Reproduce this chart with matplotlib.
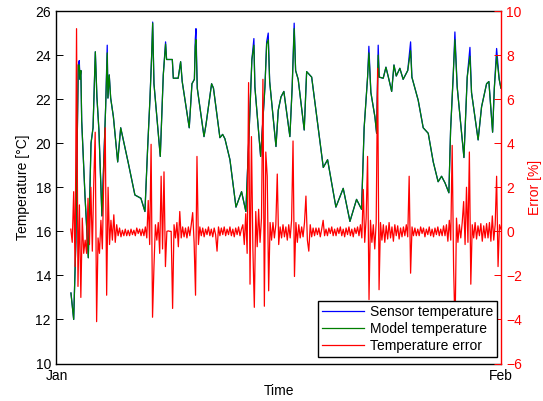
import numpy as np
import matplotlib
matplotlib.use('Agg')
import matplotlib.pyplot as plt

plt.rcParams['font.family'] = ['Liberation Sans', 'DejaVu Sans']
plt.rcParams['font.size'] = 10

# time in days from Jan 1, temperatures in degC
temp_day = [1.01, 1.20, 1.35, 1.52, 1.59, 1.64, 1.70, 1.76, 1.99, 2.22,
            2.41, 2.55, 2.71, 2.82, 2.96, 3.17, 3.43, 3.54, 3.59, 3.68,
            3.78, 3.97, 4.27, 4.48, 4.66, 5.01, 5.47, 5.89, 6.17, 6.36,
            6.52, 6.64, 6.71, 6.80, 7.24, 7.45, 7.61, 7.68, 8.08, 8.15,
            8.49, 8.66, 8.77, 9.26, 9.45, 9.62, 9.68, 9.73, 9.82, 10.29,
            10.43, 10.82, 10.95, 11.40, 11.59, 11.75, 12.10, 12.52, 12.91, 13.21,
            13.45, 13.63, 13.77, 13.84, 14.24, 14.54, 14.66, 14.77, 14.87, 15.31,
            15.47, 15.66, 15.86, 16.28, 16.44, 16.58, 16.68, 16.86, 17.28, 17.45,
            17.80, 18.61, 18.91, 19.49, 20.00, 20.47, 20.93, 21.28, 21.46, 21.70,
            21.79, 21.93, 22.21, 22.33, 22.44, 22.51, 22.79, 22.98, 23.15, 23.38,
            23.54, 23.70, 23.95, 24.18, 24.50, 24.70, 24.79, 25.23, 25.58, 25.93,
            26.28, 26.62, 26.86, 27.10, 27.37, 27.49, 27.67, 27.79, 27.95, 28.42,
            28.65, 28.84, 28.95, 29.41, 29.65, 30.00, 30.16, 30.42, 30.54, 30.70,
            30.88, 31.00]

sensor_temp = [13.2, 12.0, 15.5, 23.55, 23.75, 22.9, 23.3, 21.0, 17.6, 14.8,
               20.0, 20.7, 24.15, 22.1, 20.6, 16.7, 21.65, 24.45, 22.05, 23.1,
               22.05, 21.2, 19.15, 20.7, 20.15, 19.1, 17.65, 17.5, 16.9, 19.8,
               22.0, 24.0, 25.5, 22.7, 19.4, 23.1, 24.6, 23.8, 23.8, 22.95,
               22.95, 23.7, 22.8, 20.7, 22.7, 22.9, 24.7, 25.2, 22.5, 20.3,
               20.85, 22.7, 22.5, 20.25, 20.4, 20.2, 19.25, 17.1, 17.8, 16.9,
               20.75, 23.8, 24.75, 22.55, 19.4, 22.55, 24.6, 25.0, 22.8, 19.85,
               21.5, 22.1, 22.35, 20.3, 22.55, 25.45, 23.3, 22.9, 20.6, 23.25,
               23.0, 18.9, 19.25, 17.1, 17.95, 16.45, 17.45, 17.0, 20.7, 23.0,
               24.4, 22.3, 21.2, 20.45, 24.45, 23.0, 22.95, 23.45, 23.0, 22.35,
               23.55, 23.05, 23.4, 22.9, 23.3, 24.6, 23.0, 21.95, 20.7, 20.45,
               19.15, 18.25, 18.5, 18.2, 17.75, 20.6, 23.0, 25.05, 22.55, 19.35,
               23.0, 24.35, 22.3, 20.15, 21.65, 22.7, 22.8, 20.5, 22.5, 24.3,
               22.9, 22.5]

model_temp = [13.2, 12.0, 15.5, 23.55, 23.55, 22.9, 23.3, 21.0, 17.6, 14.8,
              20.0, 20.7, 24.15, 22.1, 20.6, 16.7, 21.65, 24.1, 22.05, 23.1,
              22.05, 21.2, 19.15, 20.7, 20.15, 19.1, 17.65, 17.5, 16.9, 19.8,
              22.0, 24.0, 25.45, 22.7, 19.4, 23.1, 24.5, 23.8, 23.8, 22.95,
              22.95, 23.7, 22.8, 20.7, 22.7, 22.9, 24.4, 24.7, 22.5, 20.3,
              20.85, 22.7, 22.5, 20.25, 20.4, 20.2, 19.25, 17.1, 17.8, 16.9,
              20.75, 23.8, 24.45, 22.55, 19.4, 22.55, 24.5, 24.7, 22.8, 19.85,
              21.5, 22.1, 22.35, 20.3, 22.55, 25.2, 23.3, 22.9, 20.6, 23.25,
              23.0, 18.9, 19.25, 17.1, 17.95, 16.45, 17.45, 17.0, 20.7, 23.0,
              24.1, 22.3, 21.2, 20.45, 24.0, 23.0, 22.95, 23.45, 23.0, 22.35,
              23.55, 23.05, 23.4, 22.9, 23.3, 24.2, 23.0, 21.95, 20.7, 20.45,
              19.15, 18.25, 18.5, 18.2, 17.75, 20.6, 23.0, 24.7, 22.55, 19.35,
              23.0, 23.95, 22.3, 20.15, 21.65, 22.7, 22.8, 20.5, 22.5, 23.95,
              22.9, 22.5]

# error in %, one sample every 0.1 day starting at day 1.0 (one row per day)
error_start = 1.0
error_step = 0.1
error_pct = [
    0.1, -0.5, 1.8, -1.6, 9.2, -2.5, 1.2, -3.0, 0.6, -1.0,         # day 1
    -0.4, -1.0, 1.5, -0.6, 2.0, -0.9, 2.2, 4.5, -4.1, -0.3,        # day 2
    -1.0, 0.5, -0.8, 2.4, 4.7, -2.9, 2.0, -0.6, 0.5, -0.4,         # day 3
    0.75, -0.5, 0.3, -0.2, 0.15, -0.25, 0.05, -0.2, 0.1, -0.2,     # day 4
    0.05, -0.2, 0.1, -0.15, 0.05, -0.2, 0.15, -0.1, 0.1, -0.2,     # day 5
    0.1, -0.2, 0.2, -0.3, 1.4, -0.6, 3.95, -3.9, -1.6, 0.3,        # day 6
    -0.4, 0.4, -1.0, 2.5, -0.8, 2.7, -1.6, 0.0, 0.02, 0.0,         # day 7
    0.0, -3.5, 0.3, -0.3, 0.4, -0.7, 0.9, -0.3, 0.2, -0.25,        # day 8
    0.15, -0.3, 0.2, -0.2, 0.3, 0.85, -0.5, -2.9, 3.4, -0.6,       # day 9
    0.2, -0.2, 0.15, -0.25, 0.1, -0.15, 0.2, -0.2, 0.1, -0.25,     # day 10
    0.15, -0.15, -0.9, 0.2, -0.2, 0.15, -0.15, 0.2, -0.2, 0.1,     # day 11
    -0.15, 0.2, -0.2, 0.1, -0.25, 0.15, -0.15, 0.2, -0.2, 0.1,     # day 12
    0.3, -0.6, 0.8, -1.0, 6.75, -2.4, 4.3, -0.8, -3.45, 0.9,       # day 13
    -0.7, 1.0, -0.5, 0.6, 6.9, -3.4, 3.6, 2.5, -2.7, 0.4,          # day 14
    -0.4, 0.4, -0.3, 0.3, 2.6, -0.6, 0.2, -0.3, 0.3, -0.25,        # day 15
    0.2, -0.4, 0.3, -0.3, 0.5, 4.1, -2.05, 0.4, -0.5, 0.3,         # day 16
    -0.3, 0.2, -0.25, 0.4, 1.6, -0.4, -0.9, 0.3, -0.25, 0.15,      # day 17
    -0.2, 0.15, -0.15, 0.15, -0.25, 0.1, 0.5, -0.2, 0.1, -0.2,     # day 18
    0.15, -0.1, 0.2, -0.2, 0.1, -0.2, 0.15, -0.1, 0.2, -0.2,       # day 19
    0.1, -0.25, 0.15, -0.15, 0.2, -0.2, 0.1, -0.25, 0.15, -0.1,    # day 20
    0.2, -0.2, 0.3, -0.3, 1.9, -0.5, 0.6, 3.4, -3.1, 0.5,          # day 21
    -0.5, 0.3, -0.8, 0.4, 7.4, -2.65, 0.4, -0.4, 0.3, -0.5,        # day 22
    0.25, -0.35, 0.4, -0.3, 0.2, -0.45, 0.3, -0.2, 0.25, -0.35,    # day 23
    0.15, -0.25, 0.2, -0.2, 0.3, -0.25, 2.5, -1.9, 0.2, -0.2,      # day 24
    0.15, -0.2, 0.1, -0.2, 0.2, -0.1, 0.15, -0.25, 0.1, -0.15,     # day 25
    0.2, -0.2, 0.1, -0.25, 0.15, -0.15, 0.2, -0.2, 0.1, -0.2,      # day 26
    0.25, -0.2, 0.3, -0.45, 0.5, -0.4, 3.9, -1.65, -4.5, 0.6,      # day 27
    -0.5, 0.3, -0.3, 0.4, 1.35, -0.6, 2.0, -0.5, 3.6, -2.4,        # day 28
    0.3, -0.3, 0.4, -0.35, 0.25, -0.2, 0.35, -0.45, 0.25, -0.3,    # day 29
    0.35, -0.3, 0.4, -0.45, 0.7, -0.4, 0.3, 2.5, -1.6, 0.3,        # day 30
    0.1,                                                            # day 31
]

month_ticks = [0, 31]
month_labels = ['Jan', 'Feb']
temp_ticks = np.arange(10, 27, 2)
error_ticks = np.arange(-6, 11, 2)

error_day = error_start + error_step * np.arange(len(error_pct))

fig = plt.figure(figsize=(5.43, 4.01), dpi=100)
ax1 = fig.add_axes([0.104, 0.0935, 0.8185, 0.879])
ax2 = ax1.twinx()
ax2.set_position([0.104, 0.0935, 0.8185, 0.879])

l1, = ax1.plot(temp_day, sensor_temp, color='#0000ff', lw=0.9)
l2, = ax1.plot(temp_day, model_temp, color='#007f00', lw=0.9)
l3, = ax2.plot(error_day, error_pct, color='#ff0000', lw=0.9)

ax1.set_xlim(month_ticks[0], month_ticks[1])
ax1.set_ylim(10, 26)
ax2.set_ylim(-6, 10)
ax1.set_xticks(month_ticks)
ax1.set_xticklabels(month_labels)
ax1.set_yticks(temp_ticks)
ax2.set_yticks(error_ticks)

ax1.tick_params(direction='in', length=5, width=0.7, pad=4, labelsize=10,
                right=False, top=False)
ax2.tick_params(direction='in', length=5, width=0.7, pad=4, labelsize=10,
                colors='#ff0000')
for s in ['left', 'top', 'bottom']:
    ax2.spines[s].set_visible(False)
ax1.spines['right'].set_visible(False)
ax2.spines['right'].set_color('#ff0000')
for s in ax1.spines.values():
    s.set_linewidth(1.0)
ax2.spines['right'].set_linewidth(1.0)

ax1.set_xlabel('Time', labelpad=1)
ax1.set_ylabel('Temperature [°C]', labelpad=4)
ax2.set_ylabel('Error [%]', color='#ff0000', labelpad=4)

leg = ax2.legend([l1, l2, l3],
                 ['Sensor temperature', 'Model temperature', 'Temperature error'],
                 loc='lower right', bbox_to_anchor=(497 / 543, 1 - 357 / 401),
                 bbox_transform=fig.transFigure, borderaxespad=0,
                 fancybox=False, framealpha=1, edgecolor='black',
                 handlelength=3.0, labelspacing=0.2, borderpad=0.3,
                 handletextpad=0.4)
leg.get_frame().set_linewidth(1.0)

fig.savefig('out.png', dpi=100)
